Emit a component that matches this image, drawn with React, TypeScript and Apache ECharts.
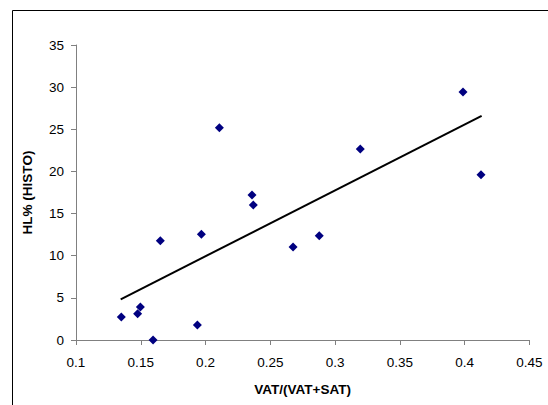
import React, { useEffect, useRef } from "react";
import * as echarts from "echarts";

const xValues = [0.135, 0.1476, 0.1497, 0.1595, 0.1651, 0.1937, 0.1968, 0.2107, 0.2359, 0.2369, 0.2676, 0.2878, 0.3195, 0.3988, 0.4127];
const yValues = [2.73, 3.12, 3.92, 0, 11.78, 1.78, 12.54, 25.19, 17.2, 16.02, 11.03, 12.38, 22.66, 29.43, 19.61];
const trendX = [0.1345, 0.4132];
const trendY = [4.83, 26.58];
const xTicks = [0.1, 0.15, 0.2, 0.25, 0.3, 0.35, 0.4, 0.45];
const yTicks = [0, 5, 10, 15, 20, 25, 30, 35];

export default function App() {
  const ref = useRef<HTMLDivElement>(null);
  useEffect(() => {
    if (!ref.current) return;
    const chart = echarts.init(ref.current, null, { renderer: "svg" });
    const font = "'Liberation Sans', Arial, sans-serif";
    const axisLine = { show: true, lineStyle: { color: "#808080", width: 1 } };
    chart.setOption({
      animation: false,
      backgroundColor: "#ffffff",
      grid: { left: 76, top: 45, right: 18.7, bottom: 65, containLabel: false },
      graphic: [
        {
          type: "rect",
          shape: { x: 12.5, y: 10.5, width: 700, height: 600 },
          style: { fill: "none", stroke: "#000000", lineWidth: 1 },
          silent: true,
          z: 100,
        },
      ],
      xAxis: {
        type: "value",
        min: xTicks[0],
        max: xTicks[xTicks.length - 1],
        interval: 0.05,
        name: "VAT/(VAT+SAT)",
        nameLocation: "middle",
        nameGap: 42,
        nameTextStyle: { fontFamily: font, fontSize: 13.5, fontWeight: "bold", color: "#000" },
        axisLine,
        axisTick: { show: true, inside: false, length: 5, lineStyle: { color: "#808080" } },
        axisLabel: {
          fontFamily: font,
          fontSize: 13.5,
          color: "#000",
          margin: 15,
          formatter: (v: number) => String(Math.round(v * 100) / 100),
          showMinLabel: true,
          showMaxLabel: true,
        },
        splitLine: { show: false },
      },
      yAxis: {
        type: "value",
        min: yTicks[0],
        max: yTicks[yTicks.length - 1],
        interval: 5,
        name: "HL% (HISTO)",
        nameLocation: "middle",
        nameGap: 42,
        nameRotate: 90,
        nameTextStyle: { fontFamily: font, fontSize: 13.5, fontWeight: "bold", color: "#000" },
        axisLine,
        axisTick: { show: true, inside: false, length: 5, lineStyle: { color: "#808080" } },
        axisLabel: { fontFamily: font, fontSize: 13.5, color: "#000", margin: 12 },
        splitLine: { show: false },
      },
      series: [
        {
          type: "line",
          data: trendX.map((x, i) => [x, trendY[i]]),
          showSymbol: false,
          symbol: "none",
          lineStyle: { color: "#000000", width: 2 },
          z: 2,
          silent: true,
        },
        {
          type: "scatter",
          data: xValues.map((x, i) => [x, yValues[i]]),
          symbol: "diamond",
          symbolSize: 9,
          itemStyle: { color: "#000080", opacity: 1 },
          z: 3,
        },
      ],
    });
    return () => chart.dispose();
  }, []);
  return <div ref={ref} style={{ width: 548, height: 405, position: "absolute", left: 0, top: 0 }} />;
}
